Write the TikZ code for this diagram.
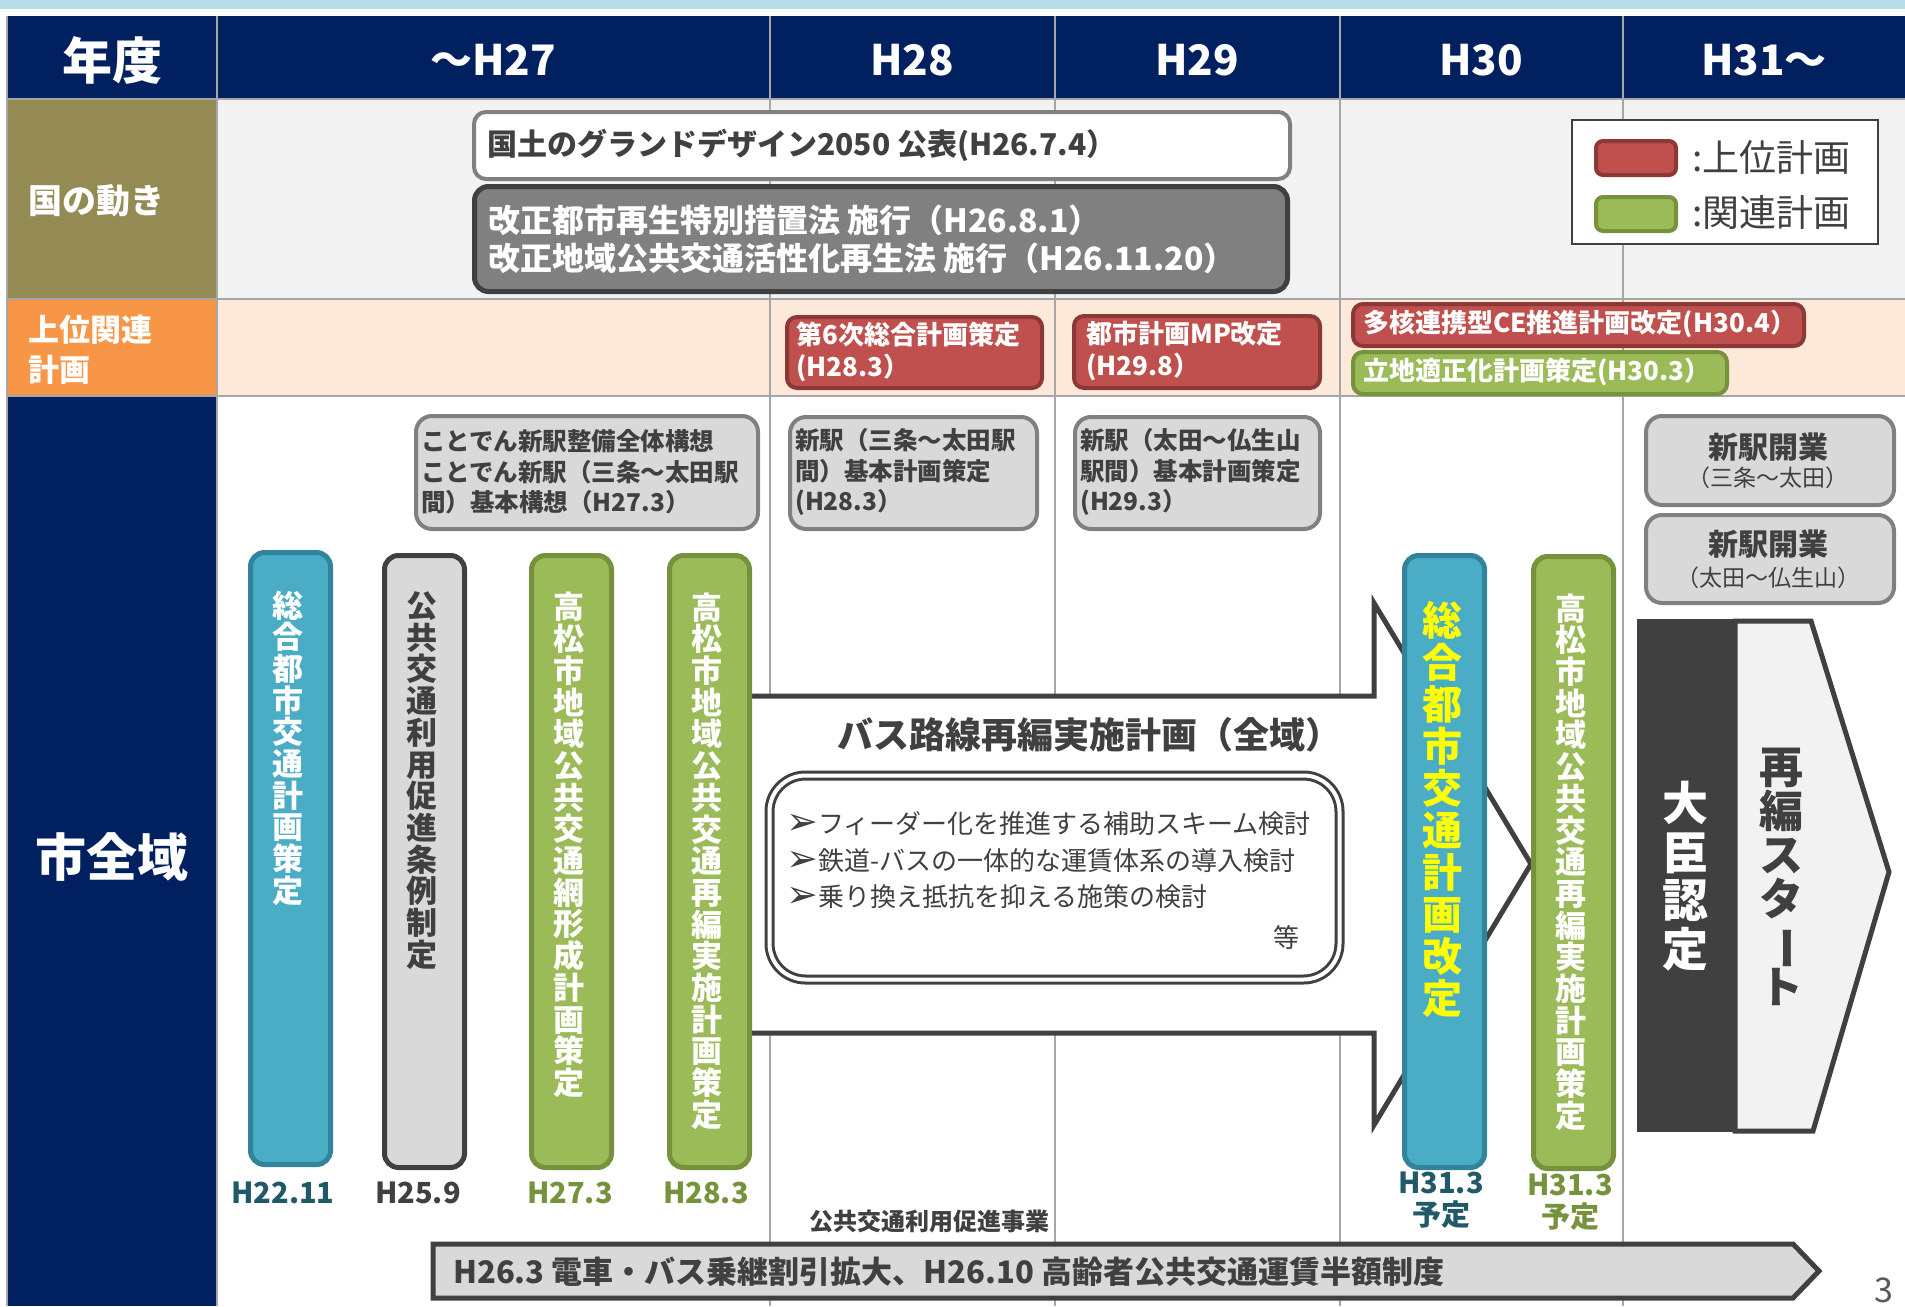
\documentclass[tikz,border=0pt]{standalone}
\usepackage{graphicx}
\usepackage{fontspec}
\setmainfont{Noto Sans CJK JP}
\newfontfamily\dvs{DejaVu Sans}
\definecolor{cNavy}{HTML}{002060}
\definecolor{cOlive}{HTML}{948A54}
\definecolor{cOrng}{HTML}{F79646}
\definecolor{cPeach}{HTML}{FDE9D9}
\definecolor{cBgg}{HTML}{F2F2F2}
\definecolor{cBand}{HTML}{B7DEE8}
\definecolor{cGrid}{HTML}{A6A6A6}
\definecolor{cDk}{HTML}{404040}
\definecolor{cRedF}{HTML}{C0504D}
\definecolor{cRedD}{HTML}{8C3836}
\definecolor{cGrnF}{HTML}{9BBB59}
\definecolor{cGrnD}{HTML}{76923C}
\definecolor{cBluF}{HTML}{4BACC6}
\definecolor{cBluD}{HTML}{31849B}
\definecolor{cLGray}{HTML}{D9D9D9}
\definecolor{cMGray}{HTML}{808080}
\definecolor{cTeal}{HTML}{215968}
\definecolor{cYel}{HTML}{FFFF00}
\definecolor{cPage}{HTML}{595959}
\newcommand\fsz[2]{\fontsize{#1}{#2}\selectfont\lineskiplimit=-200pt\relax}
\newcommand\arr{{\dvs\fontsize{38}{38}\selectfont\raisebox{-1pt}{➢}}}
\begin{document}
\begin{tikzpicture}[x=1pt,y=-1pt,
  gridl/.style={draw=cGrid,line width=2pt},
  hdr/.style={text=white,font=\bfseries\fsz{42}{50}},
  lbl/.style={text=white,font=\bfseries\fsz{34}{40},inner sep=0,align=left},
  txt/.style={inner sep=0,align=left},
  wbox/.style={draw=cMGray,fill=white,line width=4pt,rounded corners=12pt,anchor=north west},
  dbox/.style={draw=cDk,fill=cMGray,line width=5pt,rounded corners=14pt,anchor=north west},
  rbox/.style={draw=cRedD,fill=cRedF,line width=4pt,rounded corners=10pt,anchor=north west},
  gbox/.style={draw=cGrnD,fill=cGrnF,line width=4pt,rounded corners=10pt,anchor=north west},
  sbox/.style={draw=cMGray,fill=cLGray,line width=4pt,rounded corners=16pt,anchor=north west},
  bar/.style={line width=5pt,rounded corners=14pt,anchor=north west,minimum width=80pt,minimum height=612pt},
  vt/.style={inner sep=0,align=center},
  blab/.style={inner sep=0,align=center,font=\bfseries\fsz{29}{32}}]
\useasboundingbox (0,0) rectangle (1905,1306);
% background bands
\fill[cBand] (0,0) rectangle (1905,9);
\fill[cNavy] (8,16) rectangle (1905,98);
\fill[cOlive] (8,100) rectangle (217,298);
\fill[cBgg] (217,100) rectangle (1905,298);
\fill[cOrng] (8,300) rectangle (217,395);
\fill[cPeach] (217,300) rectangle (1905,395);
\fill[cNavy] (8,397) rectangle (217,1306);
% grid lines
\foreach \gx in {217,770,1055,1340,1623} {\draw[gridl] (\gx,16) -- (\gx,1306);}
\foreach \gy in {99,299,396} {\draw[gridl] (8,\gy) -- (1905,\gy);}
\draw[gridl] (7,16) -- (7,1306);
% header
\node[hdr,font=\bfseries\fsz{50}{56}] (hy) at (112,60) {年度};
\node[hdr] (h27) at (493,60) {～H27};
\node[hdr] (h28) at (912,60) {H28};
\node[hdr] (h29) at (1197,60) {H29};
\node[hdr] (h30) at (1481,60) {H30};
\node[hdr] (h31) at (1764,60) {H31～};
% row labels
\node[lbl,anchor=west] (l1) at (28,201) {国の動き};
\node[lbl,anchor=west,font=\bfseries\fsz{31}{40}] (l2) at (28,350) {上位関連\\計画};
\node[lbl,font=\bfseries\fsz{51}{56}] (l3) at (112,857) {市全域};
% row 1
\node[wbox,minimum width=816pt,minimum height=67pt] (gd) at (472,110) {};
\node[txt,anchor=west,text=cDk,font=\bfseries\fsz{30}{38}] (gdt) at (487,145) {国土のグランドデザイン2050 公表(H26.7.4）};
\node[dbox,minimum width=813pt,minimum height=105pt] (law) at (472,184) {};
\node[txt,anchor=west,text=white,font=\bfseries\fsz{32}{38}] (lawt) at (488,239) {改正都市再生特別措置法 施行（H26.8.1）\\改正地域公共交通活性化再生法 施行（H26.11.20）};
% legend
\node[draw=cDk,fill=white,line width=1.5pt,anchor=north west,minimum width=306pt,minimum height=124pt] (leg) at (1571,119) {};
\node[rbox,rounded corners=7pt,minimum width=80pt,minimum height=34pt] (lr) at (1594,139) {};
\node[gbox,rounded corners=7pt,minimum width=80pt,minimum height=34pt] (lg) at (1594,195) {};
\node[txt,anchor=west,text=cDk,font=\fsz{37}{40}] (lrt) at (1692,157) {:上位計画};
\node[txt,anchor=west,text=cDk,font=\fsz{37}{40}] (lgt) at (1692,212) {:関連計画};
% row 2
\node[rbox,minimum width=255pt,minimum height=71pt] (r1) at (785,315) {};
\node[txt,anchor=west,text=white,font=\bfseries\fsz{26}{32}] (r1t) at (796,352) {第6次総合計画策定\\(H28.3）};
\node[rbox,minimum width=246pt,minimum height=72pt] (r2) at (1072,314) {};
\node[txt,anchor=west,text=white,font=\bfseries\fsz{26}{32}] (r2t) at (1086,351) {都市計画MP改定\\(H29.8）};
\node[rbox,minimum width=451pt,minimum height=42pt] (r3) at (1351,302) {};
\node[txt,anchor=west,text=white,font=\bfseries\fsz{26}{32}] (r3t) at (1363,324) {多核連携型CE推進計画改定(H30.4）};
\node[gbox,minimum width=374pt,minimum height=42pt] (g1) at (1351,350) {};
\node[txt,anchor=west,text=white,font=\bfseries\fsz{26}{32}] (g1t) at (1363,372) {立地適正化計画策定(H30.3）};
% row 3 top boxes
\node[sbox,minimum width=342pt,minimum height=113pt] (sa) at (414,414) {};
\node[txt,anchor=west,text=cDk,font=\bfseries\fsz{24.5}{30.5}] (sat) at (421,472) {ことでん新駅整備全体構想\\ことでん新駅（三条～太田駅\\間）基本構想（H27.3）};
\node[sbox,minimum width=247pt,minimum height=112pt] (sb) at (788,415) {};
\node[txt,anchor=west,text=cDk,font=\bfseries\fsz{24.5}{30.5}] (sbt) at (795,472) {新駅（三条～太田駅\\間）基本計画策定\\(H28.3）};
\node[sbox,minimum width=245pt,minimum height=112pt] (sc) at (1073,415) {};
\node[txt,anchor=west,text=cDk,font=\bfseries\fsz{24.5}{30.5}] (sct) at (1080,472) {新駅（太田～仏生山\\駅間）基本計画策定\\(H29.3）};
\node[sbox,minimum width=248pt,minimum height=89pt] (sd) at (1644,414) {};
\node[txt,text=cDk,font=\bfseries\fsz{30}{34}] (sdt) at (1768,447) {新駅開業};
\node[txt,text=cDk,font=\fsz{23}{28}] (sds) at (1768,478) {（三条～太田）};
\node[sbox,minimum width=248pt,minimum height=88pt] (se) at (1644,513) {};
\node[txt,text=cDk,font=\bfseries\fsz{30}{34}] (set) at (1768,544) {新駅開業};
\node[txt,text=cDk,font=\fsz{23}{28}] (ses) at (1768,578) {（太田～仏生山）};
% bus arrow
\draw[cDk,fill=white,line width=5pt,line join=miter] (700,696) -- (1374,696) -- (1374,603) -- (1531,864) -- (1374,1125) -- (1374,1033) -- (700,1033) -- cycle;
\node[txt,anchor=west,text=cDk,font=\bfseries\fsz{36}{40}] (bust) at (837,735) {バス路線再編実施計画（全域）};
\node[draw=cDk,double=white,double distance=4pt,line width=3pt,rounded corners=36pt,fill=white,anchor=north west,minimum width=570pt,minimum height=204pt] (ib) at (768,774) {};
\node[txt,anchor=west,text=cDk,font=\fsz{26}{36.5}] (ibt) at (786,860.5) {\arr フィーダー化を推進する補助スキーム検討\\\arr 鉄道-バスの一体的な運賃体系の導入検討\\\arr 乗り換え抵抗を抑える施策の検討};
\node[txt,text=cDk,font=\fsz{26}{30}] (ibe) at (1286,938) {等};
% bars
\node[bar,fill=cBluF,draw=cBluD] (b1) at (248,550) {};
\node[vt,text=white,font=\bfseries\fsz{31}{31.7}] (b1t) at (288,748) {総\\合\\都\\市\\交\\通\\計\\画\\策\\定};
\node[bar,fill=cLGray,draw=cDk] (b2) at (382,553) {};
\node[vt,text=cDk,font=\bfseries\fsz{31}{31.7}] (b2t) at (422,780.5) {公\\共\\交\\通\\利\\用\\促\\進\\条\\例\\制\\定};
\node[bar,fill=cGrnF,draw=cGrnD] (b3) at (529,553) {};
\node[vt,text=white,font=\bfseries\fsz{31}{31.7}] (b3t) at (569,845) {高\\松\\市\\地\\域\\公\\共\\交\\通\\網\\形\\成\\計\\画\\策\\定};
\node[bar,fill=cGrnF,draw=cGrnD] (b4) at (667,553) {};
\node[vt,text=white,font=\bfseries\fsz{31}{31.7}] (b4t) at (707,861) {高\\松\\市\\地\\域\\公\\共\\交\\通\\再\\編\\実\\施\\計\\画\\策\\定};
\node[bar,fill=cBluF,draw=cBluD] (b5) at (1402,553) {};
\node[vt,text=cYel,font=\bfseries\fsz{40}{42}] (b5t) at (1442,809.5) {総\\合\\都\\市\\交\\通\\計\\画\\改\\定};
\node[bar,fill=cGrnF,draw=cGrnD] (b6) at (1531,554) {};
\node[vt,text=white,font=\bfseries\fsz{31}{31.7}] (b6t) at (1571,862) {高\\松\\市\\地\\域\\公\\共\\交\\通\\再\\編\\実\\施\\計\\画\\策\\定};
% bar labels
\node[blab,text=cTeal] (b1l) at (283,1193) {H22.11};
\node[blab,text=cDk] (b2l) at (418,1193) {H25.9};
\node[blab,text=cGrnD] (b3l) at (570,1193) {H27.3};
\node[blab,text=cGrnD] (b4l) at (706,1193) {H28.3};
\node[blab,text=cTeal] (b5l) at (1441,1200) {H31.3\\予定};
\node[blab,text=cGrnD] (b6l) at (1570,1202) {H31.3\\予定};
% minister approval block
\draw[cDk,fill=cBgg,line width=5pt,line join=miter] (1735,621) -- (1811,621) -- (1889,872) -- (1813,1131) -- (1735,1131) -- cycle;
\node[fill=cDk,anchor=north west,minimum width=100pt,minimum height=513pt,inner sep=0] (dj) at (1637,619) {};
\node[vt,text=white,font=\bfseries\fsz{46}{48.5}] (djt) at (1685,876) {大\\臣\\認\\定};
\node[vt,text=cDk,font=\bfseries\fsz{44}{44}] (rst) at (1781,876.5) {再\\編\\ス\\タ\\\rotatebox[origin=c]{-90}{ー}\\ト};
% bottom arrow
\node[txt,text=cDk,font=\bfseries\fsz{24}{28}] (pt) at (929,1221) {公共交通利用促進事業};
\draw[cDk,fill=cLGray,line width=5pt,line join=miter] (433,1244) -- (1793,1244) -- (1819,1271) -- (1793,1298) -- (433,1298) -- cycle;
\node[txt,anchor=west,text=cDk,font=\bfseries\fsz{31}{34}] (ptt) at (453,1272) {H26.3 電車・バス乗継割引拡大、H26.10 高齢者公共交通運賃半額制度};
\node[txt,text=cPage,font=\fsz{34}{38}] (pg) at (1884,1290) {3};
\end{tikzpicture}
\end{document}
